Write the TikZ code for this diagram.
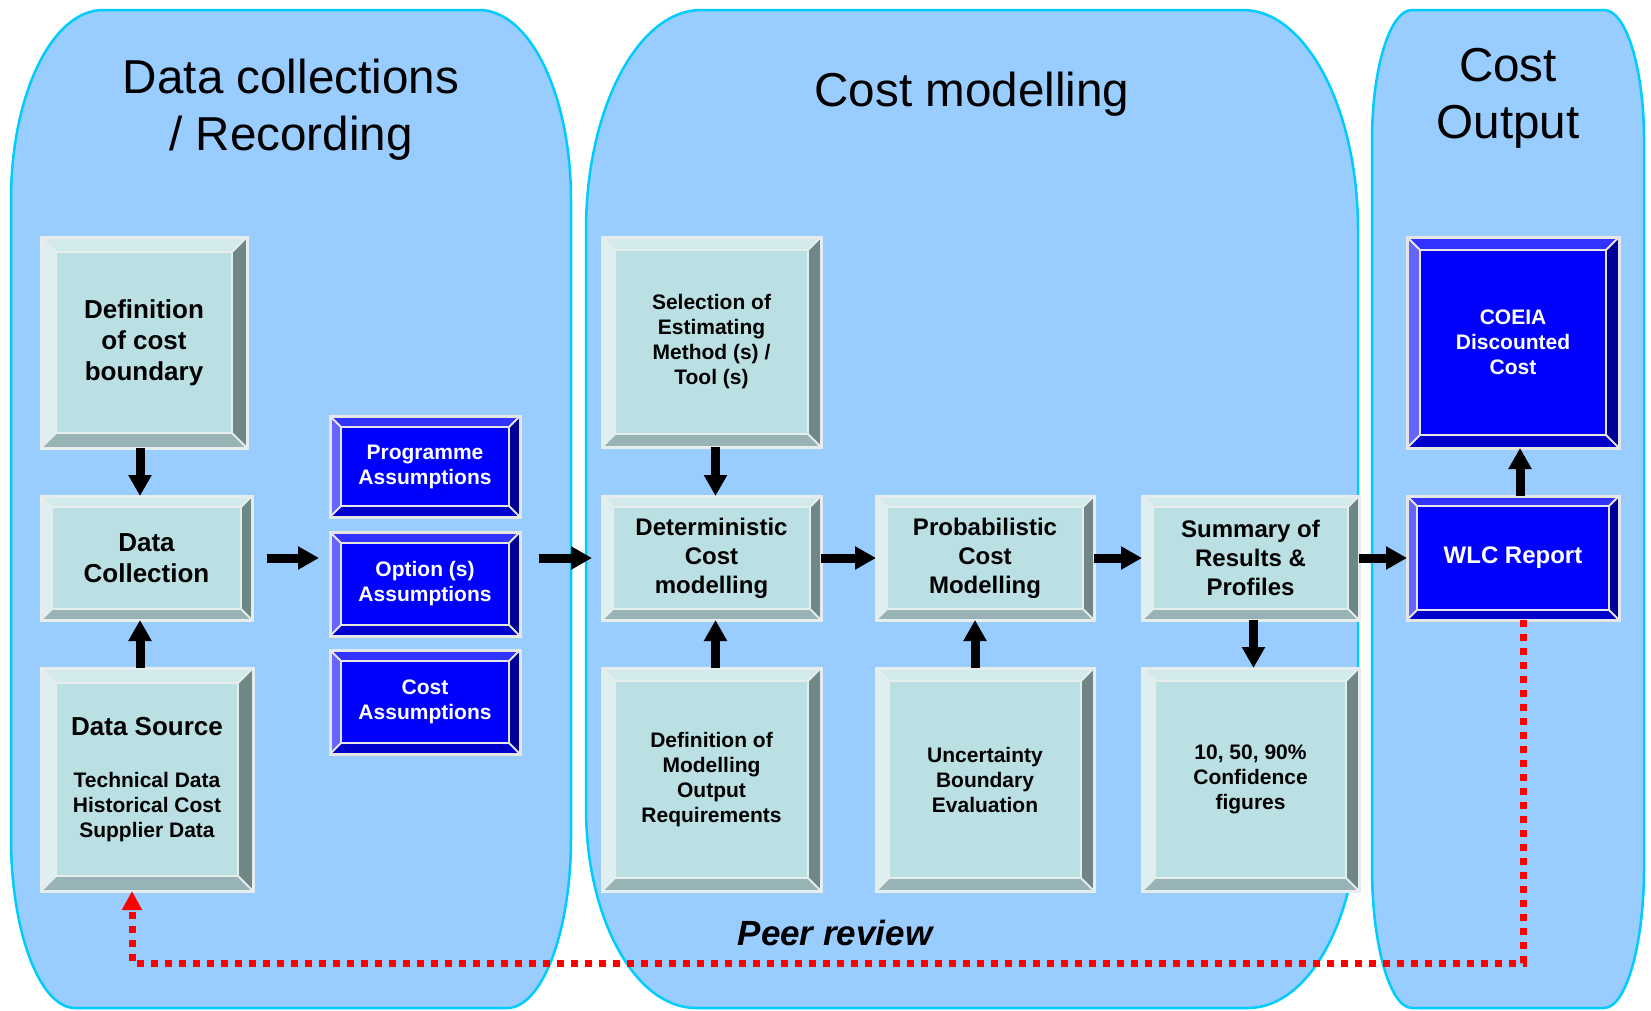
\documentclass[tikz,border=0pt]{standalone}
\usepackage{fontspec}
\setmainfont{Liberation Sans}
\usetikzlibrary{arrows.meta,calc}
\definecolor{cPanel}{HTML}{99CCFF}
\definecolor{cPanelLine}{HTML}{00CCFF}
\definecolor{cGface}{HTML}{BBE0E3}
\definecolor{cGtop}{HTML}{D2EAEB}
\definecolor{cGleft}{HTML}{DDEFF0}
\definecolor{cGright}{HTML}{6F8787}
\definecolor{cGbot}{HTML}{97B3B5}
\definecolor{cGline}{HTML}{E6EDED}
\definecolor{cBface}{HTML}{0000FF}
\definecolor{cBtop}{HTML}{3333FF}
\definecolor{cBleft}{HTML}{6666FF}
\definecolor{cBright}{HTML}{000099}
\definecolor{cBbot}{HTML}{0000CC}
\definecolor{cBline}{HTML}{E6E6E6}
\tikzset{
  gface/.style={fill=cGface}, gtop/.style={fill=cGtop}, gleft/.style={fill=cGleft},
  gright/.style={fill=cGright}, gbot/.style={fill=cGbot},
  gline/.style={draw=cGline, line width=2pt}, gtext/.style={text=black},
  bface/.style={fill=cBface}, btop/.style={fill=cBtop}, bleft/.style={fill=cBleft},
  bright/.style={fill=cBright}, bbot/.style={fill=cBbot},
  bline/.style={draw=cBline, line width=2pt}, btext/.style={text=white},
  blk/.style={draw=black, line width=9pt, -{Triangle[length=21pt,width=22pt]}},
  reddash/.style={draw=red, line width=7pt, dash pattern=on 7pt off 7pt, -{Triangle[length=19pt,width=19pt]}},
  panel/.style={fill=cPanel, draw=cPanelLine, line width=2.5pt},
  fL/.style={font=\fontsize{26}{31}\selectfont\bfseries},
  fM/.style={font=\fontsize{24}{29}\selectfont\bfseries},
  fS/.style={font=\fontsize{21}{25}\selectfont\bfseries},
  ftitle/.style={font=\fontsize{47.6}{57}\selectfont},
}
\newcommand\bevbox[9]{%
  \fill[#7face] (#2,#3) rectangle (#4,#5);
  \fill[#7top] (#2,#3) -- (#4,#3) -- ({#4-#6},{#3+#6}) -- ({#2+#6},{#3+#6}) -- cycle;
  \fill[#7left] (#2,#3) -- ({#2+#6},{#3+#6}) -- ({#2+#6},{#5-#6}) -- (#2,#5) -- cycle;
  \fill[#7right] (#4,#3) -- (#4,#5) -- ({#4-#6},{#5-#6}) -- ({#4-#6},{#3+#6}) -- cycle;
  \fill[#7bot] (#2,#5) -- (#4,#5) -- ({#4-#6},{#5-#6}) -- ({#2+#6},{#5-#6}) -- cycle;
  \draw[#7line] ({#2+#6},{#3+#6}) rectangle ({#4-#6},{#5-#6});
  \draw[#7line] (#2,#3) -- ({#2+#6},{#3+#6}) (#4,#3) -- ({#4-#6},{#3+#6})
    (#4,#5) -- ({#4-#6},{#5-#6}) (#2,#5) -- ({#2+#6},{#5-#6});
  \draw[#7line, line width=3pt] (#2,#3) rectangle (#4,#5);
  \node[#7text, #8, align=center, inner sep=0pt, outer sep=0pt,
    minimum width={(#4-#2)*1pt}, minimum height={(#5-#3)*1pt}]
    (#1) at ({(#2+#4)/2},{(#3+#5)/2}) {#9};
}
\begin{document}
\begin{tikzpicture}[x=1pt,y=-1pt]
\useasboundingbox (0,0) rectangle (1651,1010);
\fill[white] (0,0) rectangle (1651,1010);
% panels
\path[panel] (11,200) .. controls (11,95) and (52,10) .. (103,10)
  -- (479,10) .. controls (530,10) and (571,95) .. (571,200)
  -- (571,838) .. controls (571,932) and (542,1008) .. (507,1008)
  -- (75,1008) .. controls (40,1008) and (11,932) .. (11,838) -- cycle;
\path[panel] (586,230) .. controls (586,109) and (638,10) .. (701,10)
  -- (1243,10) .. controls (1306,10) and (1358,109) .. (1358,230)
  -- (1358,808) .. controls (1358,918) and (1309,1008) .. (1248,1008)
  -- (696,1008) .. controls (635,1008) and (586,918) .. (586,808) -- cycle;
\path[panel] (1372,140) .. controls (1372,68) and (1390,10) .. (1412,10)
  -- (1604,10) .. controls (1626,10) and (1644,68) .. (1644,140)
  -- (1644,868) .. controls (1644,945) and (1626,1008) .. (1604,1008)
  -- (1412,1008) .. controls (1390,1008) and (1372,945) .. (1372,868) -- cycle;
% titles
\node[ftitle, align=center] (t1) at (291,110) {Data collections\\/ Recording};
\node[ftitle, anchor=base] (t2) at (972,106) {Cost modelling};
\node[ftitle, align=center] (t3) at (1508,98) {Cost\\Output};
% boxes
\bevbox{def}{41}{237}{247}{448}{15}{g}{fL}{Definition\\of cost\\boundary}
\bevbox{dc}{41}{496}{252}{620}{11}{g}{fL}{Data\\Collection}
\bevbox{ds}{41}{668}{253}{891}{15}{g}{fS}{\fontsize{26}{31}\selectfont Data Source\\[27pt]\fontsize{21}{25}\selectfont Technical Data\\Historical Cost\\Supplier Data}
\bevbox{prog}{330}{416}{520}{517}{11}{b}{fS}{Programme\\Assumptions}
\bevbox{opt}{330}{532}{520}{636}{11}{b}{fS}{Option (s)\\Assumptions}
\bevbox{costa}{330}{650}{520}{754}{11}{b}{fS}{Cost\\Assumptions}
\bevbox{sel}{602}{237}{821}{447}{13}{g}{fS}{Selection of\\Estimating\\Method (s) /\\Tool (s)}
\bevbox{det}{602}{496}{821}{620}{11}{g}{fM}{Deterministic\\Cost\\modelling}
\bevbox{prob}{876}{496}{1094}{620}{11}{g}{fM}{Probabilistic\\Cost\\Modelling}
\bevbox{sum}{1142}{496}{1359}{620}{11}{g}{fM}{Summary of\\Results \&\\Profiles}
\bevbox{defmod}{602}{668}{821}{891}{13}{g}{fS}{Definition of\\Modelling\\Output\\Requirements}
\bevbox{unc}{876}{668}{1094}{891}{13}{g}{fS}{Uncertainty\\Boundary\\Evaluation}
\bevbox{conf}{1142}{668}{1359}{891}{13}{g}{fS}{10, 50, 90\%\\Confidence\\figures}
\bevbox{coeia}{1407}{237}{1619}{448}{13}{b}{fS}{COEIA\\Discounted\\Cost}
\bevbox{wlc}{1407}{496}{1619}{620}{10}{b}{fM}{WLC Report}
% arrows
\draw[blk] ([xshift=-4pt]def.south) -- ([xshift=-4pt]def.south |- dc.north);
\draw[blk] ([xshift=-7pt]ds.north) -- ([xshift=-7pt]ds.north |- dc.south);
\draw[blk, shorten <=15pt, shorten >=11pt] (dc.east) -- (dc.east -| opt.west);
\draw[blk, shorten <=19pt, shorten >=10pt] (det.west -| opt.east) -- (det.west);
\draw[blk] ([xshift=4pt]sel.south) -- ([xshift=4pt]det.north);
\draw[blk] ([xshift=4pt]defmod.north) -- ([xshift=4pt]det.south);
\draw[blk] ([xshift=-10pt]unc.north) -- ([xshift=-10pt]prob.south);
\draw[blk] ([xshift=3pt]sum.south) -- ([xshift=3pt]conf.north);
\draw[blk] (det.east) -- (prob.west);
\draw[blk] (prob.east) -- (sum.west);
\draw[blk] (sum.east) -- (wlc.west);
\draw[blk] ([xshift=7pt]wlc.north) -- ([xshift=7pt]coeia.south);
% peer review loop
\node[font=\fontsize{35}{40}\selectfont\bfseries\itshape, anchor=base] (peer) at (835,945) {Peer review};
\coordinate (pr1) at (1523,963);
\coordinate (pr2) at (132,963);
\draw[reddash] (wlc.south -| pr1) -- (pr1) -- (pr2) -- (ds.south -| pr2);
\end{tikzpicture}
\end{document}
